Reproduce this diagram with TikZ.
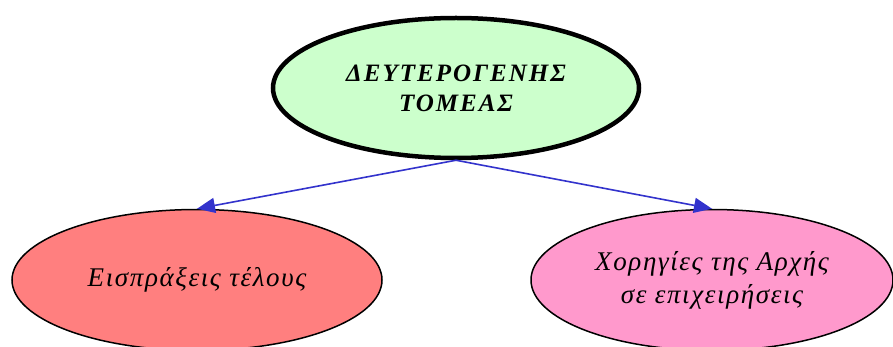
\documentclass[tikz,border=0pt]{standalone}
\usepackage{fontspec}
\setmainfont{Liberation Serif}
\usetikzlibrary{shapes.geometric,arrows.meta}
\definecolor{topfill}{HTML}{CCFFCC}
\definecolor{leftfill}{HTML}{FF7F7F}
\definecolor{rightfill}{HTML}{FF99CC}
\definecolor{arrowblue}{HTML}{3333CC}
\tikzset{
  oval/.style={ellipse, draw=black, align=center, inner sep=0pt},
  link/.style={draw=arrowblue, line width=1.6pt, -{Triangle[length=18pt,width=15pt]}},
}
\begin{document}
\begin{tikzpicture}[x=1pt,y=1pt]
\useasboundingbox (0,0) rectangle (893,-347);
\clip (0,0) rectangle (893,-347);
\node[oval, fill=topfill, line width=4.5pt, minimum width=366pt, minimum height=140pt,
  font=\fontsize{25}{30}\selectfont\bfseries\itshape\addfontfeature{LetterSpace=8}]
  (top) at (456,-88) {ΔΕΥΤΕΡΟΓΕΝΗΣ\\ΤΟΜΕΑΣ};
\node[oval, fill=leftfill, line width=1.5pt, minimum width=370pt, minimum height=141pt,
  font=\fontsize{27}{33}\selectfont\itshape\addfontfeature{LetterSpace=6}]
  (left) at (197,-280) {Εισπράξεις τέλους};
\node[oval, fill=rightfill, line width=1.5pt, minimum width=362pt, minimum height=141pt,
  font=\fontsize{27}{33}\selectfont\itshape\addfontfeature{LetterSpace=6}]
  (right) at (712,-280) {Χορηγίες της Αρχής\\σε επιχειρήσεις};
\draw[link] (top.south) -- (left.north);
\draw[link] (top.south) -- (right.north);
\end{tikzpicture}
\end{document}
